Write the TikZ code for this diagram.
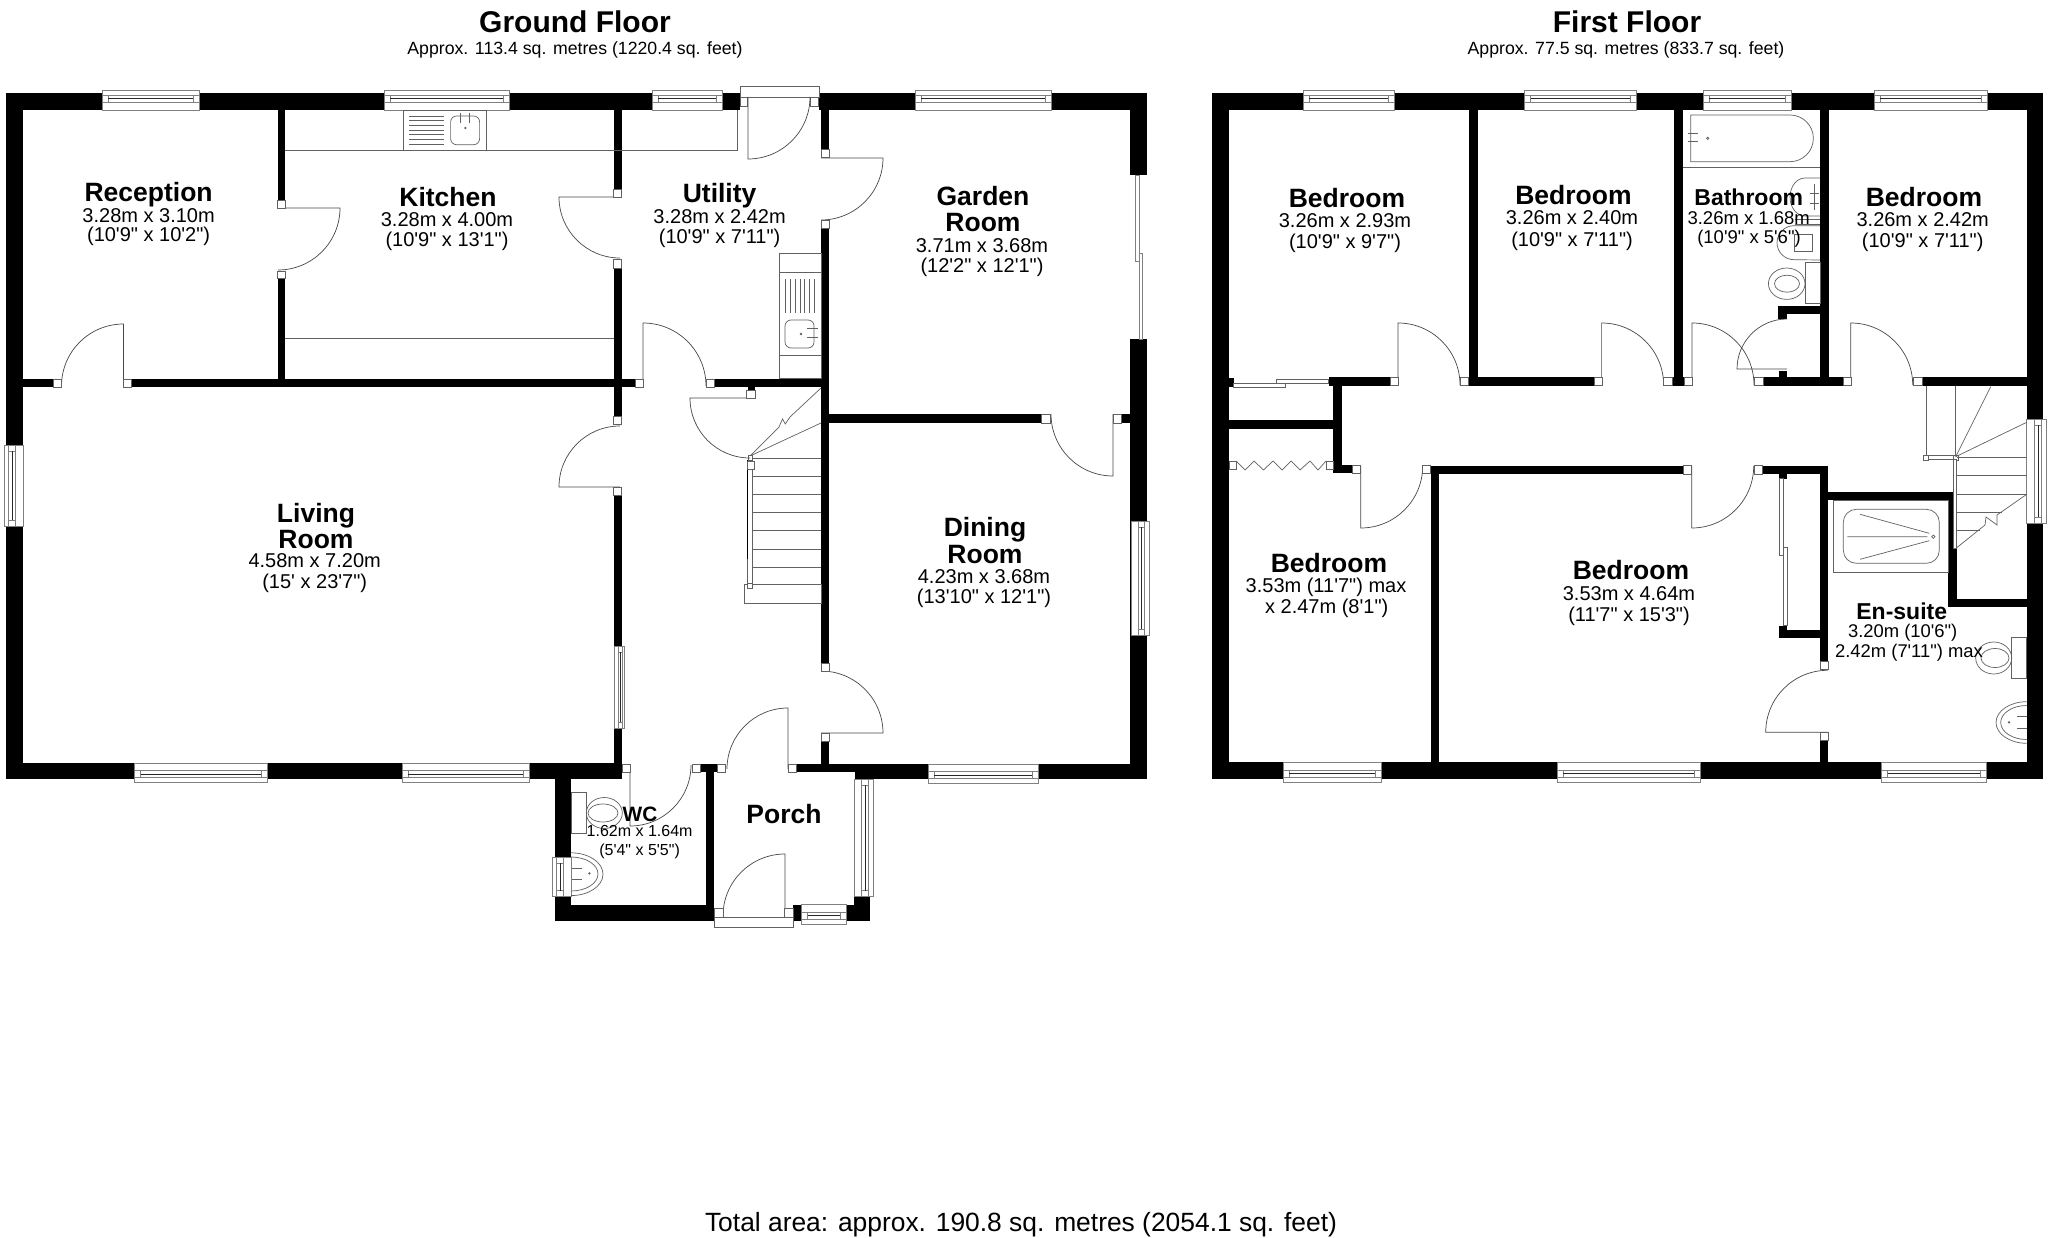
\documentclass[tikz,border=0pt]{standalone}
\usepackage{fontspec}
\newfontfamily\lab{Liberation Sans}
\newcommand{\Wl}[4]{\fill[black] (#1,-#2) rectangle (#3,-#4);}
\newcommand{\Pst}[4]{\draw[fixture,fill=white] (#1,-#2) rectangle (#3,-#4);}
\newcommand{\Dr}[5]{\draw[doorline] (#1,-#2) -- ++(#3:#5pt) arc (#3:#4:#5pt);}
\newcommand{\Hw}[4]{% x1 x2 youter yinner
  \pgfmathsetmacro{\wa}{#3+(#4-#3)*0.25}\pgfmathsetmacro{\wb}{#3+(#4-#3)*0.6}\pgfmathsetmacro{\wc}{#3+(#4-#3)*0.42}
  \pgfmathsetmacro{\wl}{#1+6}\pgfmathsetmacro{\wr}{#2-6}
  \draw[winline,fill=white] (#1,-#3) rectangle (#2,-#4);
  \draw[winline] (#1,-\wa) -- (#2,-\wa) (#1,-\wb) -- (#2,-\wb);
  \draw[winline] (\wl,-\wa) -- (\wl,-\wb) (\wr,-\wa) -- (\wr,-\wb);
  \draw[winmid] (\wl,-\wc) -- (\wr,-\wc);}
\newcommand{\Vw}[4]{% y1 y2 xouter xinner
  \pgfmathsetmacro{\wa}{#3+(#4-#3)*0.25}\pgfmathsetmacro{\wb}{#3+(#4-#3)*0.6}\pgfmathsetmacro{\wc}{#3+(#4-#3)*0.42}
  \pgfmathsetmacro{\wl}{#1+6}\pgfmathsetmacro{\wr}{#2-6}
  \draw[winline,fill=white] (#3,-#1) rectangle (#4,-#2);
  \draw[winline] (\wa,-#1) -- (\wa,-#2) (\wb,-#1) -- (\wb,-#2);
  \draw[winline] (\wa,-\wl) -- (\wb,-\wl) (\wa,-\wr) -- (\wb,-\wr);
  \draw[winmid] (\wc,-\wl) -- (\wc,-\wr);}
\newcommand{\lbN}[4]{\node[rname] (#1) at (#2,-#3) {#4};}
\newcommand{\lbD}[4]{\node[rdim] (#1) at (#2,-#3) {#4};}
\begin{document}
\begin{tikzpicture}[x=1pt,y=1pt,
  fixture/.style={draw=black!62,line width=0.7pt},
  doorline/.style={draw=black!72,line width=0.7pt},
  winline/.style={draw=black!50,line width=0.7pt},
  winmid/.style={draw=black!85,line width=0.7pt},
  rname/.style={anchor=base,inner sep=0pt,yshift=-1.3pt,font=\lab\bfseries\fontsize{26.5}{27}\selectfont},
  rdim/.style={anchor=base,inner sep=0pt,yshift=-0.7pt,font=\lab\fontsize{20}{20}\selectfont},
  title/.style={anchor=base,inner sep=0pt,font=\lab\bfseries\fontsize{30}{30}\selectfont},
  subt/.style={anchor=base,inner sep=0pt,font=\lab\fontsize{17.7}{18}\selectfont}]
\useasboundingbox (0,0) rectangle (2048,-1238);
\fill[white] (0,0) rectangle (2048,-1238);

% ===== GROUND FLOOR walls =====
\Wl{6}{93}{740}{110}\Wl{819}{93}{1147}{110}
\Wl{6}{93}{23}{779}
\Wl{1130}{93}{1147}{175}\Wl{1130}{339}{1147}{779}
\Wl{6}{763}{622}{779}\Wl{555}{764}{622}{772}
\Wl{277.5}{110}{285}{200}\Wl{277.5}{278}{285}{380}
\Wl{23}{379}{53}{387.5}\Wl{131.5}{379}{635}{387.5}\Wl{714}{379}{826}{387.5}
\Wl{613.5}{110}{621.6}{189}\Wl{613.5}{268}{621.6}{416}\Wl{613.5}{495}{621.6}{763}
\Wl{821}{110}{829}{149}\Wl{821}{228}{829}{663}\Wl{821}{741}{829}{764}
\Wl{829}{414}{1042}{423}\Wl{1121}{414}{1131}{423}
\Wl{748}{387}{755}{390}
\Wl{700}{764}{717}{772}\Wl{796}{764}{855}{772}\Wl{855}{764}{1147}{779}
\Wl{555}{772}{571}{921}\Wl{706}{772}{714}{921}\Wl{555}{904.5}{714}{921}
\Wl{793}{904.5}{870}{921}\Wl{854}{896.5}{870}{921}

% windows
\Hw{102}{199}{90}{110}\Hw{384}{509}{90}{110}\Hw{652}{722}{90}{110}\Hw{915}{1051}{90}{110}
\Hw{134.7}{267}{782}{763}\Hw{402.4}{529}{782}{763}\Hw{928}{1038}{783}{764}
\Hw{801.6}{846}{924}{904.5}
\Vw{445}{526}{4}{23}\Vw{646}{728}{624.5}{614}\Vw{521}{635}{1149}{1131}
\Vw{779}{896.5}{873}{854}\Vw{857}{896.5}{552}{571}

% sliding door, garden room
\draw[winline,fill=white] (1135,-175) rectangle (1139,-261);
\draw[winline,fill=white] (1139,-253) rectangle (1142.5,-339);

% utility outer door frame
\draw[fixture,fill=white] (740,-86) rectangle (819,-97);
\Pst{740}{97}{747}{106}\Pst{810}{97}{818}{106}

% kitchen units
\draw[fixture] (285,-150.7) -- (737,-150.7) -- (737,-110);
\draw[fixture] (285,-338) -- (613.5,-338);
\draw[fixture] (403,-110) rectangle (486,-150.7);
\foreach \yy in {116,120.7,125.3,130,134.7,139.3,144} {\draw[fixture] (409,-\yy) -- (444,-\yy);}
\draw[fixture,rounded corners=6pt] (450.6,-116) rectangle (479.6,-144.7);
\draw[fixture,line width=1pt] (460.4,-112.7) -- (460.4,-122.7) (469.4,-112.7) -- (469.4,-122.7);
\draw[fixture] (465.3,-128) circle (0.8pt);
% utility sink
\draw[fixture] (779.6,-253) rectangle (821,-378);
\draw[fixture] (779.6,-272) -- (821,-272) (779.6,-355) -- (821,-355);
\foreach \xx in {785,790,795,800,804.6,809.5,814.3} {\draw[fixture] (\xx,-279) -- (\xx,-313);}
\draw[fixture,rounded corners=6pt] (785,-320) rectangle (814,-348);
\draw[fixture,line width=1pt] (807,-329) -- (818,-329) (807,-338) -- (818,-338);
\draw[fixture] (801,-334) circle (0.8pt);

% stairs ground
\foreach \yy in {458,476,494,512,530,549,567,584.5} {\draw[fixture] (753,-\yy) -- (821,-\yy);}
\draw[fixture] (744.5,-584.5) rectangle (821,-603);
\draw[fixture,fill=white] (747,-460) rectangle (752.6,-584.5);
\draw[black,line width=1pt] (747,-460) -- (747,-559);
\draw[fixture] (750,-456) -- (821,-423);
\draw[fixture] (750,-456) -- (779,-427) -- (782.5,-419) -- (785.3,-424) -- (790,-417) -- (821,-388);
\Pst{748}{455}{752.6}{460}\Pst{747.3}{461}{754.7}{469}\Pst{747}{583}{752.6}{588}

% WC fittings
\draw[fixture] (571,-792.4) rectangle (586.5,-833.8);
\draw[fixture] (604.3,-813) ellipse (18pt and 15.5pt);
\draw[fixture] (603,-813) ellipse (15pt and 9pt);
\draw[fixture] (571,-852.8) arc (90:-90:32pt and 21.4pt);
\draw[fixture] (571,-857) arc (90:-90:27pt and 17pt);
\draw[fixture,line width=1pt] (572,-868) -- (582,-868) (572,-879.3) -- (582,-879.3);
\draw[fixture] (589.4,-873.4) circle (0.8pt);

% doors ground
\Dr{278}{208}{0}{-90}{62}\Dr{123.5}{386}{90}{180}{62}\Dr{620}{197}{180}{270}{61}
\Dr{620}{487}{180}{90}{61}\Dr{748}{97}{-90}{0}{62}\Dr{821}{158}{0}{-90}{62}
\Dr{643}{386}{90}{0}{63}\Dr{750}{398}{180}{270}{60}\Dr{821}{733}{0}{90}{62}
\Dr{1113}{414}{-90}{-180}{62}\Dr{788}{769}{90}{180}{61}\Dr{630}{765}{-90}{0}{61}
\Dr{785}{916}{90}{180}{62}
% door posts
\Pst{277.5}{200}{285}{208}\Pst{277.5}{271}{285}{278}
\Pst{53}{379}{61.5}{387.5}\Pst{123}{379}{131.5}{387.5}
\Pst{635}{379}{643}{387.5}\Pst{706}{379}{714}{387.5}
\Pst{613.5}{189}{621.6}{197}\Pst{613.5}{259}{621.6}{268}
\Pst{613.5}{416}{621.6}{424}\Pst{613.5}{487}{621.6}{495}
\Pst{821}{149}{829}{157.7}\Pst{821}{220}{829}{228}
\Pst{821}{663}{829}{671}\Pst{821}{733}{829}{741}
\Pst{1041.6}{414}{1050}{423}\Pst{1113}{414}{1121}{423}
\Pst{746.5}{390}{755}{398}
\Pst{622}{764}{630}{772}\Pst{692}{764}{700}{772}
\Pst{717}{764}{725}{772}\Pst{788}{764}{796}{772}
\draw[fixture,fill=white] (714,-917) rectangle (793,-927.6);
\Pst{714}{908.6}{723}{917}\Pst{784.5}{908.6}{793}{917}

% ===== FIRST FLOOR walls =====
\Wl{1211.5}{93}{2043.3}{110}
\Wl{1211.5}{93}{1229}{779}
\Wl{2026.7}{93}{2043.3}{779}
\Wl{1211.5}{762}{2043.3}{779}
\Wl{1468.6}{110}{1477.5}{385.7}\Wl{1673.5}{110}{1682.5}{385.7}\Wl{1820}{110}{1828.7}{385.7}
\Wl{1229}{378}{1233.5}{387}\Wl{1328.6}{377}{1390}{385.7}\Wl{1468.6}{377}{1594}{385.7}
\Wl{1672}{377}{1684}{385.7}\Wl{1763}{377}{1843}{385.7}\Wl{1922}{377}{2027}{385.7}
\Wl{1778}{306}{1820}{314}\Wl{1778}{306}{1787}{318.7}\Wl{1779}{370.7}{1787}{377}
\Wl{1333.3}{380}{1341.7}{473}\Wl{1229}{420}{1333.3}{428.7}
\Wl{1333.3}{465}{1352.7}{473}
\Wl{1430.7}{465.5}{1683.3}{474}\Wl{1430.7}{465.5}{1439.3}{763}
\Wl{1762}{465.7}{1828.3}{474}\Wl{1820}{465.7}{1828.3}{661.7}\Wl{1820}{740}{1828.3}{763}
\Wl{1778.7}{474}{1787.3}{478.7}\Wl{1778.7}{625.7}{1787.3}{638}\Wl{1787}{630}{1820}{638}
\Wl{1828}{491.7}{1953.3}{500}\Wl{1948.3}{491.7}{1953.3}{548}\Wl{1948.3}{548}{1956.7}{607.3}
\Wl{1948.3}{599}{2027}{607.3}

% windows first floor
\Hw{1303}{1394}{90}{110}\Hw{1524.5}{1636}{90}{110}\Hw{1703}{1791}{90}{110}\Hw{1874}{1987}{90}{110}
\Hw{1283}{1381}{782}{762}\Hw{1557}{1700}{782}{762}\Hw{1881.7}{1986}{782}{762}
\Vw{419}{523}{2046}{2026.7}

% closet sliding & bi-fold
\draw[fixture,fill=white] (1233.5,-383) rectangle (1285,-387);
\draw[fixture,fill=white] (1276.7,-379.3) rectangle (1328.6,-383.3);
\draw[fixture] (1236,-461) -- (1245,-470) -- (1254,-461) -- (1263.5,-470) -- (1273,-461) -- (1282,-470) -- (1291,-461) -- (1300,-470) -- (1310,-461) -- (1318,-470) -- (1326,-461);
\Pst{1229}{461}{1236}{469}\Pst{1326}{461}{1333.3}{469}
% wardrobe sliding
\draw[fixture,fill=white] (1779.3,-478.7) rectangle (1783.7,-555.7);
\draw[fixture,fill=white] (1783.7,-547.7) rectangle (1787.3,-625.7);

% bathroom fittings
\draw[fixture] (1682.5,-167) -- (1820,-167);
\draw[fixture] (1690.7,-115) -- (1790,-115) arc (90:-90:23.35pt) -- (1690.7,-161.7) -- cycle;
\draw[fixture,line width=1pt] (1688,-134) -- (1698,-134) (1688,-142) -- (1698,-142);
\draw[fixture] (1707.7,-138.3) circle (1.2pt);
\draw[fixture] (1820,-178) -- (1805,-178) arc (90:270:15pt and 19pt) -- (1820,-216);
\draw[fixture] (1814,-184) -- (1814,-210);
\draw[fixture,line width=1pt] (1810,-194) -- (1819,-194) (1810,-204) -- (1819,-204);
\draw[fixture] (1795,-219) -- (1820,-219) (1795,-224) -- (1820,-224);
\draw[fixture] (1820,-225.7) -- (1794,-225.7) arc (90:270:17pt) -- (1820,-260);
\draw[fixture] (1794,-234) rectangle (1812,-251);
\draw[fixture] (1805,-262) rectangle (1820,-303);
\draw[fixture] (1786.7,-283.7) ellipse (18.3pt and 15.7pt);
\draw[fixture] (1787,-283.7) ellipse (12.5pt and 8.5pt);

% ensuite fittings
\draw[fixture] (1833,-500.7) rectangle (1948.3,-572.7);
\draw[fixture,rounded corners=13pt] (1843.3,-509.3) rectangle (1939.3,-563.3);
\draw[fixture] (1860,-514.3) -- (1929.3,-533.3) (1847.3,-536.7) -- (1927.3,-536.7) (1860,-559.3) -- (1929.3,-540.7);
\draw[fixture] (1933.3,-536.7) circle (1.7pt);
\draw[fixture] (2011.7,-637.3) rectangle (2026.7,-678.3);
\draw[fixture] (1993.7,-658) ellipse (18pt and 16pt);
\draw[fixture] (1995,-658) ellipse (14pt and 9.5pt);
\draw[fixture] (2026.7,-701.7) arc (90:270:30.7pt and 20.8pt);
\draw[fixture] (2026.7,-705.5) arc (90:270:26pt and 17pt);
\draw[fixture,line width=1pt] (2017,-716.7) -- (2026.7,-716.7) (2017,-728.3) -- (2026.7,-728.3);
\draw[fixture] (2009,-722.3) circle (0.8pt);

% stairs first floor
\draw[fixture] (1926,-385.7) -- (1926,-456) (1955.7,-385.7) -- (1955.7,-456);
\draw[fixture,fill=white] (1926,-455.7) rectangle (1955,-459.3);
\Pst{1923.3}{455}{1928.7}{460}\Pst{1953}{455}{1958}{460}
\draw[fixture] (1955.7,-456.7) -- (2026.7,-422.3);
\draw[fixture] (1955.7,-456.7) -- (1990.7,-386.7);
\foreach \yy in {457.3,475.7,494.3} {\draw[fixture] (1957,-\yy) -- (2026.7,-\yy);}
\draw[fixture] (1957,-512.3) -- (2002,-512.3) (1957,-530) -- (1980,-530);
\draw[fixture,fill=white] (1953.3,-459.3) rectangle (1956.7,-548);
\draw[fixture] (1956.7,-547.7) -- (1985,-525) -- (1986,-517) -- (1997,-525) -- (1997,-515) -- (2026.7,-494.3);

% doors first floor
\Dr{1398}{385}{90}{0}{62}\Dr{1601.6}{385}{90}{0}{62}\Dr{1692}{385}{90}{0}{62}\Dr{1850.7}{385}{90}{0}{62}
\Dr{1787}{369}{180}{90}{50}
\Dr{1360.7}{466}{-90}{0}{62}\Dr{1691.7}{466}{-90}{0}{62}\Dr{1827.7}{732.3}{180}{90}{62}
% posts first floor
\Pst{1390}{377}{1398}{385.7}\Pst{1460.4}{377}{1468.6}{385.7}
\Pst{1594}{377}{1602}{385.7}\Pst{1663}{377}{1672}{385.7}
\Pst{1684}{377}{1692}{385.7}\Pst{1754}{377}{1763}{385.7}
\Pst{1843}{377}{1851}{385.7}\Pst{1913}{377}{1922}{385.7}
\Pst{1352.7}{465}{1360.7}{473}\Pst{1422.7}{465}{1430.7}{473}
\Pst{1683.3}{465.7}{1691.7}{474}\Pst{1754}{465.7}{1762}{474}
\Pst{1820}{661.7}{1828.3}{669.3}\Pst{1820}{732.3}{1828.3}{740}

% ===== LABELS =====
\node[title] (gft) at (575,-33) {Ground Floor};
\node[subt] (gfs) at (575,-54.5) {Approx. 113.4 sq. metres (1220.4 sq. feet)};
\node[title] (fft) at (1627,-33) {First Floor};
\node[subt] (ffs) at (1626,-54.5) {Approx. 77.5 sq. metres (833.7 sq. feet)};
\node[anchor=base,inner sep=0pt,font=\lab\fontsize{26.4}{27}\selectfont] (tot) at (1021,-1231) {Total area: approx. 190.8 sq. metres (2054.1 sq. feet)};

\lbN{rec}{148.6}{200}{Reception}\lbD{recA}{148.6}{221.7}{3.28m x 3.10m}\lbD{recB}{148.6}{240.7}{(10'9" x 10'2")}
\lbN{kit}{448}{205}{Kitchen}\lbD{kitA}{447}{226}{3.28m x 4.00m}\lbD{kitB}{447}{245.7}{(10'9" x 13'1")}
\lbN{uti}{719.6}{201.7}{Utility}\lbD{utiA}{719.6}{223}{3.28m x 2.42m}\lbD{utiB}{719.6}{243}{(10'9" x 7'11")}
\lbN{garA}{983}{204}{Garden}\lbN{garB}{983}{230.7}{Room}\lbD{garC}{982}{252}{3.71m x 3.68m}\lbD{garD}{982}{271.7}{(12'2" x 12'1")}
\lbN{livA}{316}{520.7}{Living}\lbN{livB}{316}{546.7}{Room}\lbD{livC}{314.7}{567}{4.58m x 7.20m}\lbD{livD}{314.7}{587.7}{(15' x 23'7")}
\lbN{dinA}{985}{535}{Dining}\lbN{dinB}{985}{562}{Room}\lbD{dinC}{984}{583}{4.23m x 3.68m}\lbD{dinD}{984}{603}{(13'10" x 12'1")}
\lbN{por}{784}{822}{Porch}
\node[rname,font=\lab\bfseries\fontsize{20.8}{21}\selectfont] (wc) at (640,-820) {WC};
\node[rdim,font=\lab\fontsize{16}{16}\selectfont] (wcA) at (639.6,-836) {1.62m x 1.64m};
\node[rdim,font=\lab\fontsize{16}{16}\selectfont] (wcB) at (639.6,-854.5) {(5'4" x 5'5")};

\lbN{bedA}{1347}{206}{Bedroom}\lbD{bedAa}{1345}{226.7}{3.26m x 2.93m}\lbD{bedAb}{1345}{247.7}{(10'9" x 9'7")}
\lbN{bedB}{1573.5}{203}{Bedroom}\lbD{bedBa}{1572}{224}{3.26m x 2.40m}\lbD{bedBb}{1572}{245.7}{(10'9" x 7'11")}
\node[rname,font=\lab\bfseries\fontsize{23}{23}\selectfont] (bath) at (1748.7,-204) {Bathroom};
\node[rdim,font=\lab\fontsize{18.5}{19}\selectfont] (bathA) at (1748.7,-224) {3.26m x 1.68m};
\node[rdim,font=\lab\fontsize{18.5}{19}\selectfont] (bathB) at (1749,-243) {(10'9" x 5'6")};
\lbN{bedC}{1924}{205}{Bedroom}\lbD{bedCa}{1922.7}{225.7}{3.26m x 2.42m}\lbD{bedCb}{1922.7}{246.7}{(10'9" x 7'11")}
\lbN{bedD}{1329}{571}{Bedroom}\lbD{bedDa}{1326}{592}{3.53m (11'7") max}\lbD{bedDb}{1326.7}{613}{x 2.47m (8'1")}
\lbN{bedE}{1631}{578}{Bedroom}\lbD{bedEa}{1629}{600}{3.53m x 4.64m}\lbD{bedEb}{1629}{620.7}{(11'7" x 15'3")}
\node[rname,font=\lab\bfseries\fontsize{23}{23}\selectfont] (ens) at (1901.7,-618) {En-suite};
\node[rdim,font=\lab\fontsize{18.4}{19}\selectfont] (ensA) at (1902.7,-637) {3.20m (10'6")};
\node[rdim,font=\lab\fontsize{18.4}{19}\selectfont] (ensB) at (1909,-656.7) {2.42m (7'11") max};
\end{tikzpicture}
\end{document}
